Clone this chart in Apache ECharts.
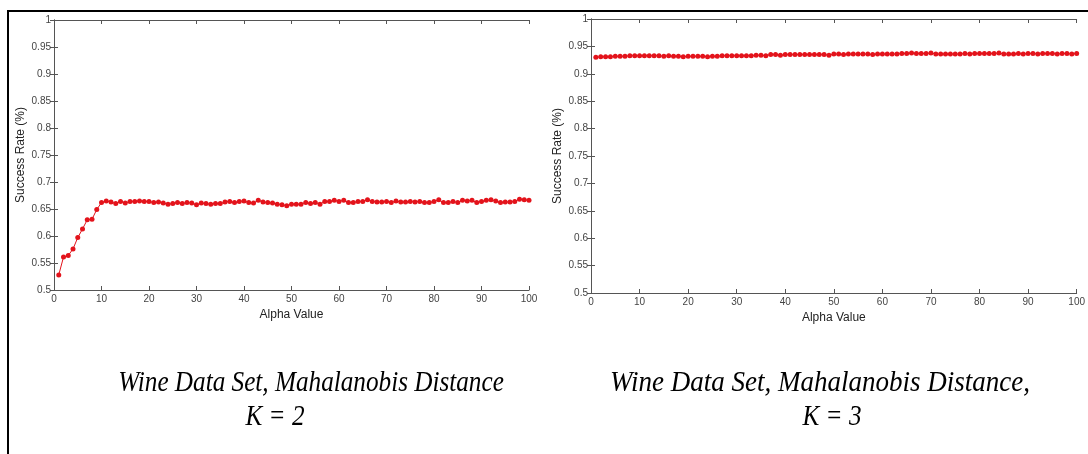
<!DOCTYPE html>
<html><head><meta charset="utf-8">
<script src="https://cdn.jsdelivr.net/npm/echarts@6/dist/echarts.min.js"></script>
<style>html,body{margin:0;padding:0;background:#fff}#c{width:1088px;height:454px}</style>
</head><body><div id="c"></div>
<script>
const alpha = [1,2,3,4,5,6,7,8,9,10,11,12,13,14,15,16,17,18,19,20,21,22,23,24,25,26,27,28,29,30,31,32,33,34,35,36,37,38,39,40,41,42,43,44,45,46,47,48,49,50,51,52,53,54,55,56,57,58,59,60,61,62,63,64,65,66,67,68,69,70,71,72,73,74,75,76,77,78,79,80,81,82,83,84,85,86,87,88,89,90,91,92,93,94,95,96,97,98,99,100];
const rateK2 = [0.528,0.561,0.564,0.576,0.597,0.613,0.630,0.631,0.649,0.662,0.665,0.663,0.660,0.664,0.661,0.664,0.664,0.665,0.664,0.664,0.662,0.663,0.661,0.659,0.660,0.662,0.660,0.662,0.661,0.658,0.661,0.660,0.659,0.660,0.660,0.663,0.664,0.662,0.664,0.665,0.662,0.661,0.666,0.663,0.662,0.661,0.659,0.658,0.656,0.659,0.659,0.659,0.662,0.660,0.662,0.659,0.664,0.664,0.666,0.664,0.666,0.662,0.662,0.664,0.664,0.667,0.664,0.663,0.663,0.664,0.662,0.665,0.663,0.663,0.664,0.663,0.664,0.662,0.662,0.664,0.667,0.662,0.662,0.664,0.662,0.666,0.665,0.666,0.662,0.664,0.666,0.667,0.665,0.662,0.663,0.663,0.664,0.668,0.667,0.666];
const rateK3 = [0.930,0.931,0.931,0.931,0.932,0.932,0.932,0.933,0.933,0.933,0.933,0.933,0.933,0.933,0.932,0.933,0.932,0.932,0.931,0.932,0.932,0.932,0.932,0.931,0.932,0.932,0.933,0.933,0.933,0.933,0.933,0.933,0.933,0.934,0.934,0.933,0.935,0.935,0.934,0.935,0.935,0.935,0.935,0.935,0.935,0.935,0.935,0.935,0.934,0.936,0.936,0.935,0.936,0.936,0.936,0.936,0.936,0.935,0.936,0.936,0.936,0.936,0.936,0.937,0.937,0.938,0.937,0.937,0.937,0.938,0.936,0.936,0.936,0.936,0.936,0.936,0.937,0.936,0.937,0.937,0.937,0.937,0.937,0.938,0.936,0.936,0.936,0.937,0.936,0.937,0.937,0.936,0.937,0.937,0.937,0.936,0.937,0.937,0.936,0.937];
const xTicks = [0,10,20,30,40,50,60,70,80,90,100];
const yTicks = ['0.5','0.55','0.6','0.65','0.7','0.75','0.8','0.85','0.9','0.95','1'];
const titles = ['Wine Data Set, Mahalanobis Distance','Wine Data Set, Mahalanobis Distance,'];
const subTitles = ['K = 2','K = 3'];

const chart = echarts.init(document.getElementById('c'), null, {renderer:'canvas'});
const axisCol = '#555';
const lblStyle = {color:'#444', fontSize:10, fontFamily:'Arial, Liberation Sans, sans-serif'};
const grids = [
  {left:54, top:20, width:475, height:270},
  {left:591, top:19, width:486, height:274}
];
const xAxes = [], yAxes = [], series = [];
[rateK2, rateK3].forEach((vals, i) => {
  const base = {type:'value', gridIndex:i, min:0, max:100, interval:10,
    axisLine:{show:true, lineStyle:{color:axisCol, width:1}},
    axisTick:{show:true, inside:true, length:4, lineStyle:{color:axisCol}},
    splitLine:{show:false}};
  xAxes.push(Object.assign({}, base, {position:'bottom',
    axisLabel:Object.assign({margin:4, formatter:v => xTicks.includes(v) ? String(v) : ''}, lblStyle),
    name:'Alpha Value', nameLocation:'middle', nameGap:12,
    nameTextStyle:{color:'#222', fontSize:12, fontFamily:'Arial, Liberation Sans, sans-serif'}}));
  xAxes.push(Object.assign({}, base, {position:'top', axisLabel:{show:false}}));
  const ybase = {type:'value', gridIndex:i, min:0.5, max:1, interval:0.05,
    axisLine:{show:true, lineStyle:{color:axisCol, width:1}},
    axisTick:{show:true, inside:true, length:4, lineStyle:{color:axisCol}},
    splitLine:{show:false}};
  yAxes.push(Object.assign({}, ybase, {position:'left',
    axisLabel:Object.assign({margin:3, formatter:v => yTicks[Math.round((v-0.5)/0.05)]}, lblStyle),
    name:'Success Rate (%)', nameLocation:'middle', nameGap:27,
    nameTextStyle:{color:'#222', fontSize:12, fontFamily:'Arial, Liberation Sans, sans-serif'}}));
  yAxes.push(Object.assign({}, ybase, {position:'right', axisLabel:{show:false}}));
  series.push({type:'line', xAxisIndex:i*2, yAxisIndex:i*2,
    data: alpha.map((a, j) => [a, vals[j]]),
    symbol:'circle', symbolSize:5, showSymbol:true,
    itemStyle:{color:'#e3131b'}, lineStyle:{color:'#e3131b', width:1},
    animation:false, silent:true});
});

const tFont = 'italic 30px "Liberation Serif", "DejaVu Serif", serif';
const graphic = [
  {type:'line', shape:{x1:7, y1:11, x2:1088, y2:11}, style:{stroke:'#000', lineWidth:2}},
  {type:'line', shape:{x1:8, y1:10, x2:8, y2:454}, style:{stroke:'#000', lineWidth:2}},
  {type:'text', x:311, y:383, scaleX:0.84, style:{text:titles[0], font:tFont, fill:'#000', textAlign:'center', textVerticalAlign:'middle'}},
  {type:'text', x:275, y:417, scaleX:0.84, style:{text:subTitles[0], font:tFont, fill:'#000', textAlign:'center', textVerticalAlign:'middle'}},
  {type:'text', x:820, y:383, scaleX:0.9, style:{text:titles[1], font:tFont, fill:'#000', textAlign:'center', textVerticalAlign:'middle'}},
  {type:'text', x:832, y:417, scaleX:0.84, style:{text:subTitles[1], font:tFont, fill:'#000', textAlign:'center', textVerticalAlign:'middle'}}
];

chart.setOption({animation:false, grid:grids, xAxis:xAxes, yAxis:yAxes, series:series, graphic:graphic});
</script></body></html>
